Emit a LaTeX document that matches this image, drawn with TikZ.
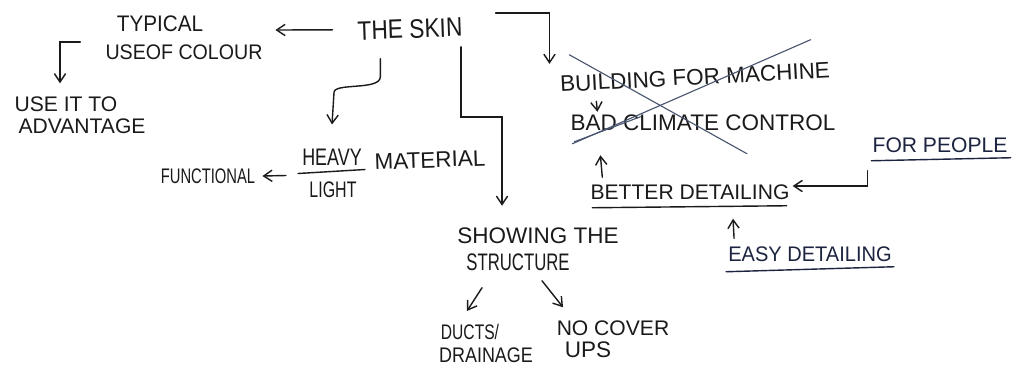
\documentclass[tikz,border=0pt]{standalone}
\usepackage{fontspec}
\setmainfont{Liberation Sans}
\usetikzlibrary{arrows.meta,positioning}
\definecolor{SketchInk}{HTML}{1A1A1A}
\definecolor{SketchNavy}{HTML}{1C2440}
\definecolor{SketchStrike}{HTML}{4A5670}
\newcommand\narrowtext[2]{\scalebox{#1}[1]{#2}}

\begin{document}
\begin{tikzpicture}[x=0.025cm,y=-0.025cm]
    \tikzset{word/.style={inner sep=0pt,text=SketchInk,font=\fontsize{#1}{#1}\selectfont},word/.default=15,
      inkarrow/.style={draw=SketchInk,line width=1pt,line cap=round,-{Straight Barb[length=6pt,width=8pt]}},
      inkline/.style={draw=SketchNavy,line width=1pt,line cap=round},
      strike/.style={draw=SketchStrike,line width=0.8pt,line cap=round}}
    \fill[white] (0,0) rectangle (1012,369);
    \useasboundingbox (0,0) rectangle (1012,369);
    \node[word=19,rotate=2] (skin) at (410,29) {\narrowtext{0.85}{THE SKIN}};
    \node[word=16] (typical) at (160,24) {\narrowtext{0.92}{TYPICAL}};
    \node[word=15] (colour) at (184,52) {\narrowtext{0.93}{USEOF COLOUR}};
    \node[word] (useit) at (66,104) {USE IT TO};
    \node[word] (advantage) at (82,126) {ADVANTAGE};
    \node[word=17] (heavy) at (332,157) {\narrowtext{0.75}{HEAVY}};
    \node[word=16] (light) at (333,190) {\narrowtext{0.71}{LIGHT}};
    \node[word=16,rotate=2] (material) at (430,160) {MATERIAL};
    \node[word=15] (functional) at (208,176) {\narrowtext{0.7}{FUNCTIONAL}};
    \node[word=16] (showing) at (538,236) {SHOWING THE};
    \node[word=17] (structure) at (518,262) {\narrowtext{0.7}{STRUCTURE}};
    \node[word=15] (ducts) at (470,332) {\narrowtext{0.74}{DUCTS/}};
    \node[word=15] (drainage) at (486,355) {\narrowtext{0.85}{DRAINAGE}};
    \node[word] (cover) at (613,328) {NO COVER};
    \node[word=16] (ups) at (588,350) {UPS};
    \node[word=16,rotate=3] (building) at (695,77) {BUILDING FOR MACHINE};
    \node[word=16] (climate) at (703,123) {BAD CLIMATE CONTROL};
    \node[word] (better) at (690,192) {BETTER DETAILING};
    \node[word,text=SketchNavy] (people) at (940,145) {FOR PEOPLE};
    \node[word=15,text=SketchNavy] (easy) at (810,254) {\narrowtext{0.95}{EASY DETAILING}};
    \draw[inkarrow] ([shift={(-25,-1)}]skin.west) -- ([shift={(72,6)}]typical.east);
    \draw[inkarrow] ([shift={(-25,-10)}]colour.west) -| ([shift={(-6,-13)}]useit.north);
    \draw[inkarrow] ([shift={(-30,20)}]skin.south) -- ++(0,18) .. controls ++(0,14) and ++(0,-10) .. ([shift={(2,-56)}]heavy.north) -- ([shift={(0,-24)}]heavy.north);
    \draw[inkline,draw=SketchInk] ([shift={(-34,8)}]heavy.south) -- ([shift={(33,4)}]heavy.south);
    \draw[inkarrow] ([shift={(-16,10)}]heavy.south west) -- ([shift={(7,0)}]functional.east);
    \draw[inkarrow] ([shift={(-2,10)}]skin.south east) -- ++(0,70) -| ([shift={(-36,-22)}]showing.north);
    \draw[inkarrow] ([shift={(-36,17)}]structure.south) -- ([shift={(-3,-13)}]ducts.north);
    \draw[inkarrow] ([shift={(24,10)}]structure.south) -- ([shift={(-50,-13)}]cover.north);
    \draw[inkarrow] ([shift={(33,-14)}]skin.east) -| ([shift={(-10,-12)}]building.north west);
    \draw[inkarrow] ([shift={(36,9)}]building.south west) -- ([shift={(27,-3)}]climate.north west);
    \draw[strike] ([shift={(10,-21)}]building.north west) -- ([shift={(44,22.5)}]climate.south);
    \draw[strike] ([shift={(-19,-22)}]building.north east) -- ([shift={(2,12.5)}]climate.south west);
    \draw[strike] ([shift={(4,10.5)}]climate.south west) -- ([shift={(70,-14.5)}]climate.south west);
    \draw[inkarrow] ([shift={(12,-7)}]better.north west) -- ([shift={(30,24)}]climate.south west);
    \draw[inkline,draw=SketchInk] ([shift={(2,8)}]better.south west) -- ([shift={(-3,6)}]better.south east);
    \draw[inkline] ([shift={(-1,8)}]people.south west) -- ([shift={(3,5)}]people.south east);
    \draw[inkarrow] ([shift={(-5,18)}]people.south west) |- ([shift={(3,-6)}]better.east);
    \draw[inkarrow] ([shift={(6,-8)}]easy.north west) -- ([shift={(43,19)}]better.south);
    \draw[inkline] ([shift={(-2,10)}]easy.south west) -- ([shift={(2,5)}]easy.south east);
  \end{tikzpicture}
\end{document}
